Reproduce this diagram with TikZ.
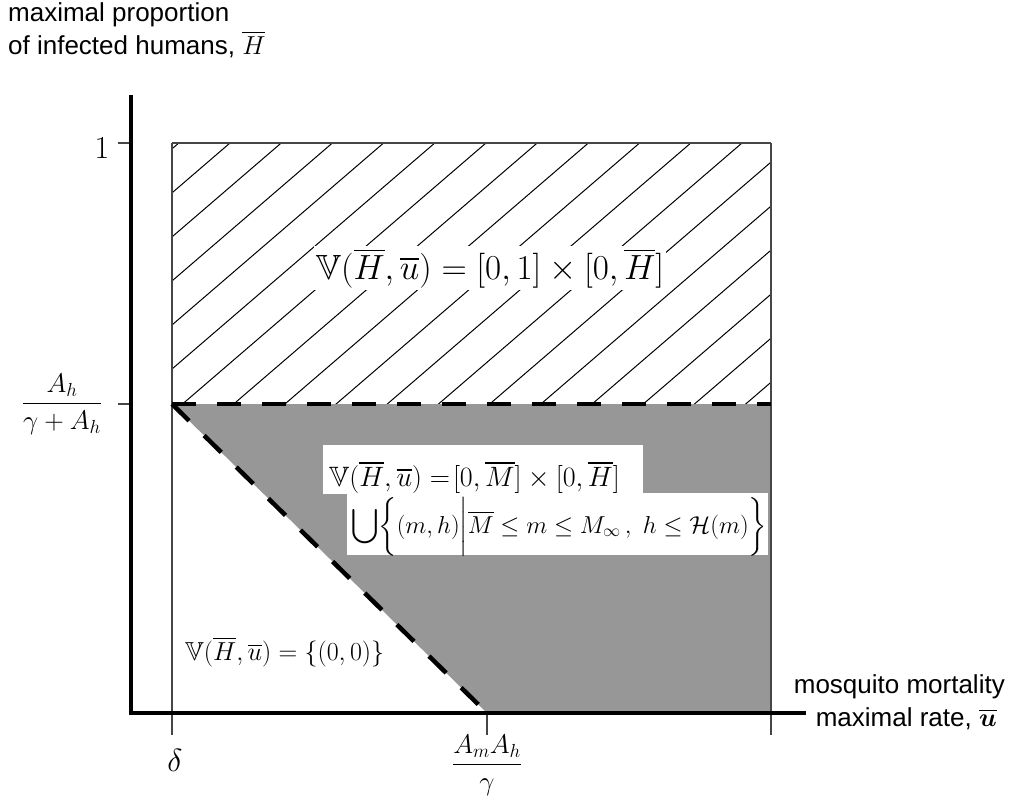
\RequirePackage{fix-cm}
\documentclass[tikz,border=0pt]{standalone}
\usepackage{amsmath,amssymb}
\usepackage{fontspec}
\newfontfamily\labelfont{Liberation Sans}
\definecolor{regiongray}{RGB}{151,151,151}
\definecolor{tickgray}{RGB}{70,70,70}
\begin{document}
\begin{tikzpicture}[x=1pt,y=-1pt,
  axisline/.style={line width=4.5pt},
  boxline/.style={line width=1.3pt, draw=tickgray},
  hatchline/.style={line width=1pt},
  dashline/.style={line width=4.5pt, dash pattern=on 24pt off 21pt},
  axislabel/.style={font=\fontsize{26}{33}\selectfont\labelfont, inner sep=0pt},
  bigmath/.style={font=\fontsize{35}{40}\selectfont, inner sep=0pt},
  midmath/.style={font=\fontsize{28}{34}\selectfont, inner sep=0pt},
  setmath/.style={font=\fontsize{24.5}{30}\selectfont, inner sep=0pt},
  smallmath/.style={font=\fontsize{26}{32}\selectfont, inner sep=0pt},
  ticklabel/.style={font=\fontsize{27}{32}\selectfont, inner sep=0pt},
  bigtick/.style={font=\fontsize{32}{36}\selectfont, inner sep=0pt}]
\useasboundingbox (0,0) rectangle (1012,800);
\fill[white] (0,0) rectangle (1012,800);

% key points
\coordinate (O) at (131,713);
\coordinate (Ytop) at (131,95);
\coordinate (Xend) at (806,713);
\coordinate (D0) at (172,143);
\coordinate (D1) at (771,143);
\coordinate (C0) at (172,404);
\coordinate (C1) at (771,404);
\coordinate (E0) at (172,735);
\coordinate (E1) at (771,735);
\coordinate (B) at (487,713);
\coordinate (Bt) at (487,735);
\coordinate (G) at (771,713);
\coordinate (T1a) at (118,143);
\coordinate (T1b) at (131,143);
\coordinate (T2a) at (118,404);
\coordinate (T2b) at (131,404);

% hatched region
\begin{scope}
  \clip (D0) rectangle (C1);
  \foreach \k in {-3,...,17} {
    \draw[hatchline] (230+51.2*\k,143) -- ++(-420,361.2);
  }
\end{scope}

% gray region
\fill[regiongray] (C0) -- (C1) -- (G) -- (B) -- cycle;

% frame lines
\draw[boxline] (D0) -- (D1);
\draw[boxline] (D0) -- (E0);
\draw[boxline] (D1) -- (E1);
\draw[boxline] (B) -- (Bt);
\draw[boxline] (T1a) -- (T1b);
\draw[boxline] (T2a) -- (T2b);

% dashed boundaries
\draw[dashline] (C0) -- (C1);
\draw[dashline] (C0) -- (B);

% axes
\draw[axisline] (Ytop) -- (131,715.25);
\draw[axisline] (128.75,713) -- (Xend);

% axis labels
\node[axislabel, anchor=north west, align=left] (ylab) at (8,2)
  {maximal proportion\\of infected humans, $\overline{H}$};
\node[axislabel, anchor=north east, align=right] (xlab) at (1005,674)
  {mosquito mortality\\maximal rate, $\overline{\boldsymbol{u}}$\hspace*{8pt}};

% tick labels
\node[bigtick, anchor=base] (one) at (102,158) {$1$};
\node[ticklabel, anchor=base] (ahfrac) at (62,410.5)
  {$\dfrac{A_h}{\gamma+A_h}$};
\node[bigtick, anchor=base] (delta) at (175,771) {$\delta$};
\node[ticklabel, anchor=base] (amfrac) at (487,771.5)
  {$\dfrac{A_mA_h}{\gamma}$};

% region formulas
\node[bigmath, fill=white, inner sep=2pt] (f1) at (490,268)
  {$\mathbb{V}(\overline{H},\overline{u}) = [0,1]\times[0,\overline{H}]$};

\fill[white] (323,445) rectangle (643,494);
\fill[white] (347,493) rectangle (768,555);
\node[midmath, anchor=base west] (f2a) at (329,486)
  {$\mathbb{V}(\overline{H},\overline{u}) =\!{[}0,\overline{M}]\times[0,\overline{H}]$};
\node[setmath, anchor=west] (f2b) at (351,527)
  {$\displaystyle\bigcup\biggl\{(m,h)\bigg|\overline{M}\le m\le M_\infty\,,\ h\le\mathcal{H}(m)\biggr\}$};

\node[smallmath, anchor=base west] (f3) at (185,660)
  {$\mathbb{V}(\overline{H},\overline{u}) = \{(0,0)\}$};
\end{tikzpicture}
\end{document}
